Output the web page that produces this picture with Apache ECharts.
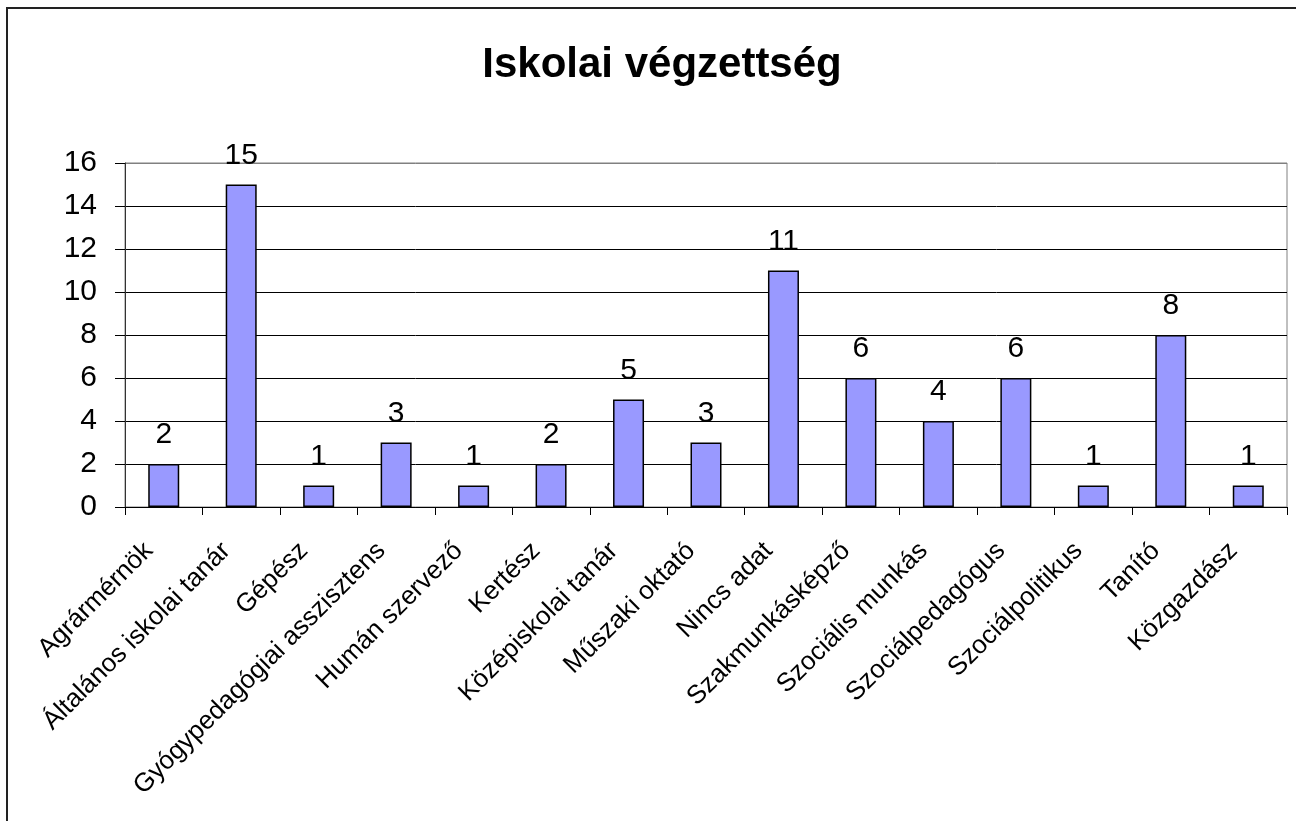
<!DOCTYPE html>
<html>
<head>
<meta charset="utf-8">
<script src="https://cdn.jsdelivr.net/npm/echarts@6/dist/echarts.min.js"></script>
<style>
html,body{margin:0;padding:0;background:#fff;}
#chart{width:1296px;height:821px;}
</style>
</head>
<body>
<div id="chart"></div>
<script>
var titleText = 'Iskolai végzettség';
var categories = ['Agrármérnök','Általános iskolai tanár','Gépész','Gyógypedagógiai asszisztens','Humán szervező','Kertész','Középiskolai tanár','Műszaki oktató','Nincs adat','Szakmunkásképző','Szociális munkás','Szociálpedagógus','Szociálpolitikus','Tanító','Közgazdász'];
var values = [2,15,1,3,1,2,5,3,11,6,4,6,1,8,1];
var yMin = 0, yMax = 16, yInterval = 2;

var font = 'Liberation Sans, Arial, sans-serif';
var chart = echarts.init(document.getElementById('chart'), null, {renderer:'canvas'});
chart.setOption({
  animation:false,
  backgroundColor:'#fff',
  title:{
    text:titleText, left:657, top:39, textAlign:'center',
    textStyle:{fontFamily:font, fontSize:42, fontWeight:'bold', color:'#000'}
  },
  graphic:[{
    type:'rect', silent:true, z:-1,
    shape:{x:7, y:8, width:1400, height:900},
    style:{fill:'none', stroke:'#222', lineWidth:2}
  }],
  grid:{left:125, right:9, top:163, bottom:314, show:true, borderColor:'#808080', borderWidth:1, backgroundColor:'transparent'},
  xAxis:{
    type:'category', data:categories,
    axisLine:{show:true, lineStyle:{color:'#000', width:1}},
    axisTick:{show:true, length:8, alignWithLabel:false, lineStyle:{color:'#000'}},
    axisLabel:{rotate:45, margin:25, padding:[0,21,0,0], interval:0, fontFamily:font, fontSize:26, color:'#000'},
    splitLine:{show:false}
  },
  yAxis:{
    type:'value', min:yMin, max:yMax, interval:yInterval,
    axisLine:{show:true, lineStyle:{color:'#333', width:1}},
    axisTick:{show:true, length:10, lineStyle:{color:'#000'}},
    axisLabel:{margin:28, fontFamily:font, fontSize:30, color:'#000'},
    splitLine:{show:true, lineStyle:{color:['#000','#000','#000','#000','#000','#000','#000','#000','#808080'], width:1}}
  },
  series:[{
    type:'bar', data:values, barWidth:31,
    itemStyle:{color:'#9999FF', borderColor:'#000', borderWidth:1.5},
    label:{show:true, position:'top', distance:14, fontFamily:font, fontSize:30, color:'#000'}
  }]
});
</script>
</body>
</html>
